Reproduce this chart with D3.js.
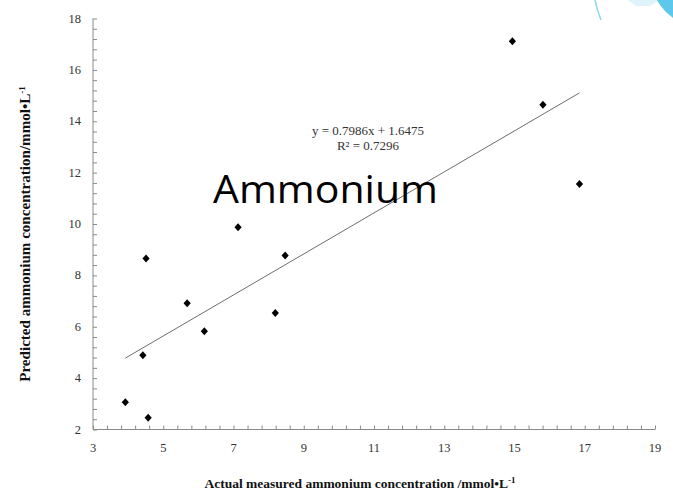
<!DOCTYPE html>
<html><head><meta charset="utf-8">
<script src="https://cdn.jsdelivr.net/npm/d3@7"></script>
<style>html,body{margin:0;padding:0;background:#fff;}svg{display:block;}</style>
</head><body>
<script>
const actual    = [3.92, 4.57, 4.42, 4.51, 5.68, 6.17, 7.13, 8.19, 8.47, 14.94, 15.81, 16.85];
const predicted = [3.06, 2.46, 4.89, 8.66, 6.91, 5.82, 9.87, 6.54, 8.77, 17.11, 14.64, 11.56];
const slope = 0.7986, intercept = 1.6475, r2 = 0.7296;
const xTicks = [3, 5, 7, 9, 11, 13, 15, 17, 19];
const yTicks = [2, 4, 6, 8, 10, 12, 14, 16, 18];
const xTitle = "Actual measured ammonium  concentration /mmol\u2022L";
const yTitle = "Predicted ammonium  concentration/mmol\u2022L";
const overlayTitle = "Ammonium";

const W = 673, H = 491;
const svg = d3.select("body").append("svg").attr("width", W).attr("height", H);
const x = d3.scaleLinear().domain([3, 19]).range([93, 655]);
const y = d3.scaleLinear().domain([2, 18]).range([429.5, 18.5]);
const serif = "'Liberation Serif','Times New Roman',serif";

// decoration top-right
svg.append("path").attr("d", "M595,0 Q597,10 601,20").attr("fill", "none").attr("stroke", "#8fd6f0").attr("stroke-width", 1.5);
svg.append("path").attr("d", "M628,0 L660,0 L650,6 L636,6 Z").attr("fill", "#dff3fb");
svg.append("path").attr("d", "M657,0 L673,0 L673,18 L666,12 Q660,6 657,0 Z").attr("fill", "#5cc8ec");

const axisColor = "#8a8a8a";
const xMinor = d3.range(0, 41).map(i => 3 + i * 0.4);
const yMinor = d3.range(0, 41).map(i => 2 + i * 0.4);

const xAxis = d3.axisBottom(x).tickValues(xMinor).tickSize(-4).tickFormat("");
const gx = svg.append("g").attr("transform", `translate(0,${y(2)})`).call(xAxis);
gx.selectAll("path,line").attr("stroke", axisColor).attr("stroke-width", 1);
gx.select(".domain").attr("d", `M${x(3)},0H${x(19)}`);

const yAxis = d3.axisLeft(y).tickValues(yMinor).tickSize(-4).tickFormat("");
const gy = svg.append("g").attr("transform", `translate(${x(3)},0)`).call(yAxis);
gy.selectAll("path,line").attr("stroke", axisColor).attr("stroke-width", 1);
gy.select(".domain").attr("d", `M0,${y(18)}V${y(2)}`);

// tick labels
svg.append("g").selectAll("text").data(xTicks).join("text")
  .attr("x", d => x(d)).attr("y", 452).attr("text-anchor", "middle")
  .attr("font-family", serif).attr("font-size", 12.5).attr("fill", "#333").text(d => d);
svg.append("g").selectAll("text").data(yTicks).join("text")
  .attr("x", 81).attr("y", d => y(d) + 4).attr("text-anchor", "end")
  .attr("font-family", serif).attr("font-size", 12.5).attr("fill", "#333").text(d => d);

// trendline
const xmin = d3.min(actual), xmax = d3.max(actual);
svg.append("line")
  .attr("x1", x(xmin)).attr("y1", y(slope * xmin + intercept))
  .attr("x2", x(xmax)).attr("y2", y(slope * xmax + intercept))
  .attr("stroke", "#6e6e6e").attr("stroke-width", 1);

// points
const pts = actual.map((a, i) => [a, predicted[i]]);
svg.append("g").selectAll("path").data(pts).join("path")
  .attr("transform", d => `translate(${x(d[0])},${y(d[1])})`)
  .attr("d", "M0,-4L3.6,0L0,4L-3.6,0Z").attr("fill", "#000");

// equation
svg.append("text").attr("x", 368).attr("y", 134.5).attr("text-anchor", "middle")
  .attr("font-family", serif).attr("font-size", 13).attr("fill", "#333")
  .text(`y = ${slope}x  + ${intercept}`);
svg.append("text").attr("x", 368).attr("y", 149.5).attr("text-anchor", "middle")
  .attr("font-family", serif).attr("font-size", 13).attr("fill", "#333")
  .text(`R\u00B2 = ${r2}`);

// overlay title
svg.append("text").attr("x", 213).attr("y", 203)
  .attr("font-family", "'Open Sans','Noto Sans',sans-serif").attr("font-size", 39)
  .attr("textLength", 225).attr("lengthAdjust", "spacingAndGlyphs")
  .attr("fill", "#000").text(overlayTitle);

// axis titles
const xt = svg.append("text").attr("x", 360).attr("y", 488).attr("text-anchor", "middle")
  .attr("font-family", serif).attr("font-size", 13.5).attr("font-weight", "bold").attr("fill", "#111");
xt.append("tspan").text(xTitle);
xt.append("tspan").attr("font-size", 9).attr("dy", -5).text("-1");

const yt = svg.append("text").attr("transform", "translate(30,234) rotate(-90)").attr("text-anchor", "middle")
  .attr("font-family", serif).attr("font-size", 14).attr("font-weight", "bold").attr("fill", "#111");
yt.append("tspan").attr("textLength", 288).attr("lengthAdjust", "spacingAndGlyphs").text(yTitle);
yt.append("tspan").attr("font-size", 9).attr("dy", -5).text("-1");
</script>
</body></html>
